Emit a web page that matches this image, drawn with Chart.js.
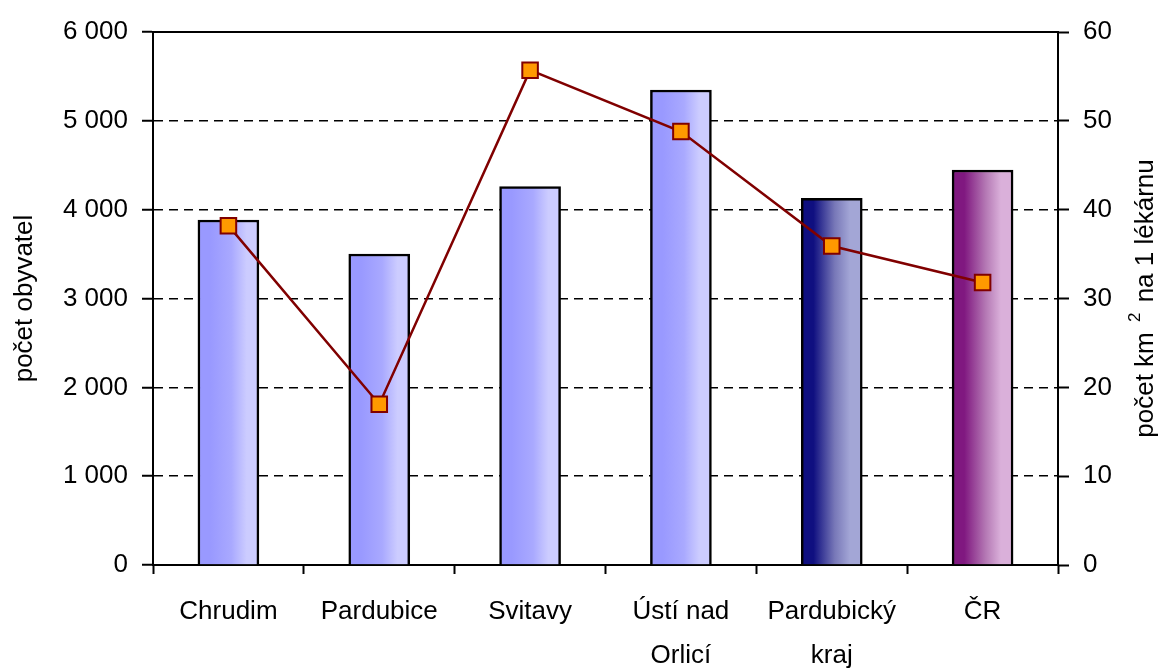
<!DOCTYPE html>
<html>
<head>
<meta charset="utf-8">
<script src="https://cdn.jsdelivr.net/npm/chart.js@4"></script>
<style>
html,body{margin:0;padding:0;background:#fff}
#wrap{width:1164px;height:671px;position:relative}
</style>
</head>
<body>
<div id="wrap"><canvas id="c"></canvas></div>
<script>
const categories = ['Chrudim','Pardubice','Svitavy',['Ústí nad','Orlicí'],['Pardubický','kraj'],'ČR'];
const obyvatelNaLekarnu = [3884,3501,4260,5347,4128,4447];
const kmNaLekarnu = [38.2,18.1,55.7,48.8,35.9,31.8];
const leftTicks = [0,1000,2000,3000,4000,5000,6000];
const rightTicks = [0,10,20,30,40,50,60];

// barvy sloupcu: [levy okraj, stred, pravy okraj]
const barStops = [
  ['#9999ff','#a9a9ff','#ccccff'],
  ['#9999ff','#a9a9ff','#ccccff'],
  ['#9999ff','#a9a9ff','#ccccff'],
  ['#9999ff','#a9a9ff','#ccccff'],
  ['#0f0f80','#7878b8','#a3a6d6'],
  ['#801880','#b478b4','#dab0da']
];

const FONT = '"Liberation Sans Narrow","Arial Narrow","Liberation Sans",Arial,sans-serif';
const FS = 26;
const BAR_W = 61;

function fmt(v){ return String(v).replace(/\B(?=(\d{3})+(?!\d))/g,' '); }

function barFill(ctx){
  const chart = ctx.chart;
  const stops = barStops[ctx.dataIndex] || barStops[0];
  if(!chart.chartArea || !chart.scales.x) return stops[1];
  const cx = chart.scales.x.getPixelForValue(ctx.dataIndex);
  const g = chart.ctx.createLinearGradient(cx-BAR_W/2,0,cx+BAR_W/2,0);
  g.addColorStop(0,stops[0]);
  g.addColorStop(0.2,stops[0]);
  g.addColorStop(0.55,stops[1]);
  g.addColorStop(0.8,stops[2]);
  g.addColorStop(1,stops[2]);
  return g;
}

// horni ramecek + pravy popis osy (cte se zdola nahoru, s horním indexem)
const frame = {
  id:'frame',
  afterDraw(chart){
    const {ctx, chartArea:a} = chart;
    ctx.save();
    ctx.strokeStyle='#000'; ctx.lineWidth=2;
    ctx.beginPath(); ctx.moveTo(a.left,a.top); ctx.lineTo(a.right,a.top); ctx.stroke();
    const x = chart.width-18, cy=(a.top+a.bottom)/2;
    ctx.translate(x,cy); ctx.rotate(-Math.PI/2);
    ctx.fillStyle='#000'; ctx.textBaseline='middle'; ctx.textAlign='left';
    const big=FS+'px '+FONT, small='17px '+FONT;
    const p1='počet km ', p2='2', p3=' na 1 lékárnu';
    ctx.font=big; const w1=ctx.measureText(p1).width, w3=ctx.measureText(p3).width;
    ctx.font=small; const w2=ctx.measureText(p2).width;
    let sx=-(w1+w2+w3+6)/2;
    ctx.font=big; ctx.fillText(p1,sx,0); sx+=w1;
    ctx.font=small; ctx.fillText(p2,sx+3,-11); sx+=w2+6;
    ctx.font=big; ctx.fillText(p3,sx,0);
    ctx.restore();
  }
};

new Chart(document.getElementById('c'),{
  type:'bar',
  data:{labels:categories,datasets:[
    {type:'line',label:'počet km2 na 1 lékárnu',data:kmNaLekarnu,yAxisID:'y1',order:0,
     borderColor:'#800000',borderWidth:2.5,tension:0,
     pointStyle:'rect',pointRadius:11,pointHoverRadius:11,pointBackgroundColor:'#ff9900',pointBorderColor:'#800000',pointBorderWidth:2},
    {type:'bar',label:'počet obyvatel',data:obyvatelNaLekarnu,yAxisID:'y',order:1,
     backgroundColor:barFill,borderColor:'#000',borderWidth:2.5,borderSkipped:'bottom',barThickness:BAR_W}
  ]},
  options:{
    responsive:true,maintainAspectRatio:false,animation:false,
    layout:{padding:{top:32,right:0,bottom:0,left:0}},
    plugins:{legend:{display:false},tooltip:{enabled:false}},
    scales:{
      x:{
        grid:{offset:true,drawOnChartArea:false,drawTicks:true,tickLength:9,tickColor:'#000',tickWidth:2},
        border:{display:true,color:'#000',width:2},
        ticks:{color:'#000',padding:16,maxRotation:0,autoSkip:false,font:{family:FONT,size:FS,lineHeight:1.7}},
        afterFit(s){ s.height=106; }
      },
      y:{
        position:'left',min:0,max:6000,
        afterBuildTicks(s){ s.ticks=leftTicks.map(v=>({value:v})); },
        grid:{color:'#000',lineWidth:1.5,tickLength:11,tickColor:'#000',tickWidth:2},
        border:{display:true,color:'#000',width:2,dash:[9,6]},
        ticks:{color:'#000',padding:14,font:{family:FONT,size:FS},callback:v=>fmt(v)},
        title:{display:true,text:'počet obyvatel',color:'#000',padding:{top:9,bottom:0},font:{family:FONT,size:FS}},
        afterFit(s){ s.width=153; }
      },
      y1:{
        position:'right',min:0,max:60,
        afterBuildTicks(s){ s.ticks=rightTicks.map(v=>({value:v})); },
        grid:{drawOnChartArea:false,tickLength:11,tickColor:'#000',tickWidth:2},
        border:{display:true,color:'#000',width:2},
        ticks:{color:'#000',padding:14,font:{family:FONT,size:FS}},
        afterFit(s){ s.width=106; }
      }
    }
  },
  plugins:[frame]
});
</script>
</body>
</html>
